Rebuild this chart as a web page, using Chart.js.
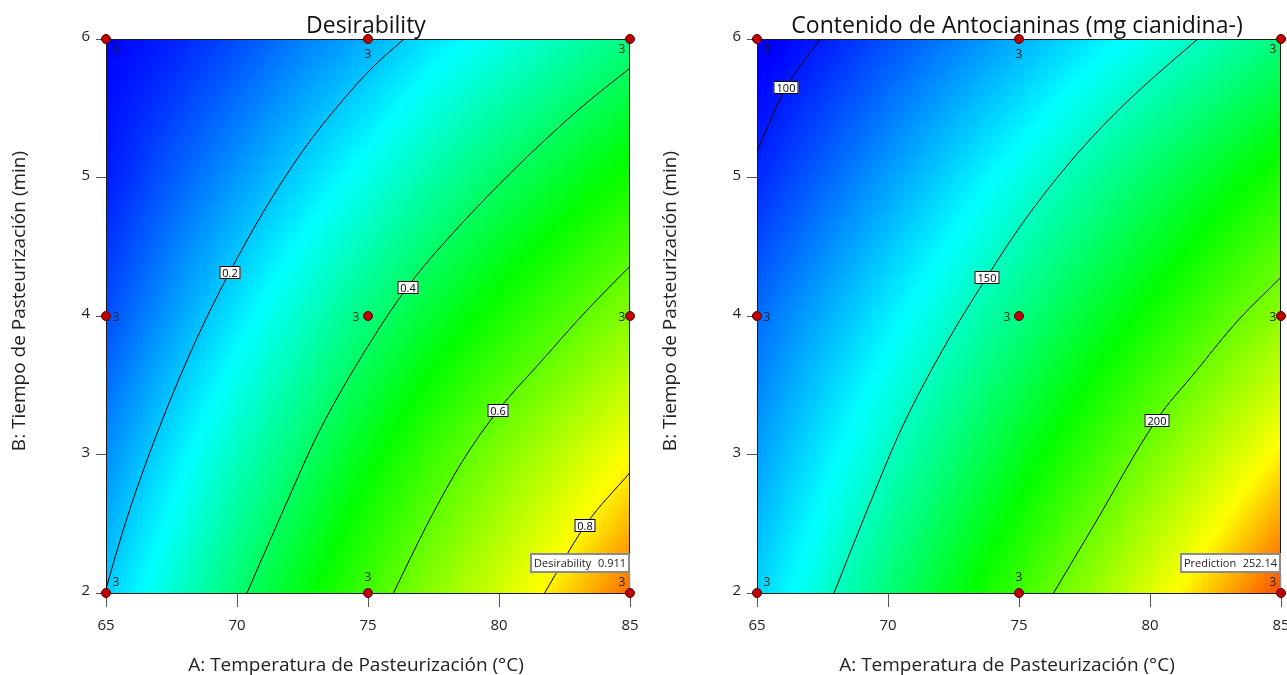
<!DOCTYPE html>
<html>
<head>
<meta charset="utf-8">
<title>Desirability / Antocianinas</title>
<script src="https://cdn.jsdelivr.net/npm/chart.js@4.4.1/dist/chart.umd.min.js"></script>
<style>
  html, body { margin: 0; padding: 0; background: #fff; }
  body { width: 1287px; height: 675px; position: relative; overflow: hidden; }
  canvas { position: absolute; top: 0; }
  #c1 { left: 0; }
  #c2 { left: 651px; }
</style>
</head>
<body>
<canvas id="c1" width="643" height="675"></canvas>
<canvas id="c2" width="636" height="675"></canvas>
<script>
// factor levels used for the response surfaces
const tempA = [65, 67.5, 70, 72.5, 75, 77.5, 80, 82.5, 85];
const timeB = [2, 3, 4, 5, 6];

// desirability, one row per time level (B = 2 .. 6)
const desirGrid = [
  [0.20, 0.29, 0.385, 0.475, 0.565, 0.655, 0.74, 0.825, 0.911],
  [0.14, 0.225, 0.31, 0.39, 0.475, 0.56, 0.64, 0.715, 0.79],
  [0.075, 0.153, 0.228, 0.302, 0.377, 0.447, 0.515, 0.58, 0.65],
  [0.025, 0.09, 0.15, 0.21, 0.27, 0.335, 0.395, 0.45, 0.51],
  [0.0, 0.03, 0.075, 0.125, 0.17, 0.225, 0.27, 0.32, 0.37]
];

// anthocyanin content, same layout
const anthoGrid = [
  [132, 147, 162, 177, 192, 207, 222, 237, 252.14],
  [123, 136.5, 149.5, 162.5, 176, 189.5, 203, 216.5, 230],
  [114, 125.5, 137, 148.5, 160, 172, 183.5, 195.5, 207],
  [102, 112.5, 123, 133.5, 144, 154.5, 165, 175.5, 186],
  [92, 100, 109, 117.5, 126, 135, 143.5, 152, 161]
];

// contour lines as [A, B] pairs
const desirLevels = ['0.2', '0.4', '0.6', '0.8'];
const desirLines = [
  [[65, 2.03], [65.65, 2.45], [66.3, 2.82], [67.15, 3.25], [68, 3.64], [68.87, 4.0], [69.73, 4.32], [71, 4.75], [72.5, 5.19], [74, 5.55], [75.2, 5.80], [76.38, 6]],
  [[70.38, 2], [71.68, 2.56], [73.12, 3.16], [74.99, 3.78], [76.51, 4.21], [77.82, 4.51], [80.43, 5.03], [83.04, 5.49], [85, 5.79]],
  [[75.97, 2], [77.30, 2.51], [78.6, 2.95], [79.97, 3.32], [81.6, 3.67], [83.3, 4.03], [85, 4.36]],
  [[81.74, 2], [83.3, 2.49], [85, 2.87]]
];
const desirLabelAt = [6, 4, 3, 1];

const anthoLevels = ['100', '150', '200'];
const anthoLines = [
  [[65, 5.19], [66.11, 5.65], [67.42, 6]],
  [[67.94, 2], [69.06, 2.53], [70.50, 3.18], [72.07, 3.75], [73.77, 4.28], [75.21, 4.69], [77.17, 5.16], [79.14, 5.55], [81.82, 6]],
  [[76.32, 2], [77.83, 2.48], [80.25, 3.25], [81.75, 3.60], [83.32, 3.96], [85, 4.28]]
];
const anthoLabelAt = [1, 4, 2];

// design runs and replicate counts
const designA = [65, 75, 85, 65, 75, 85, 65, 75, 85];
const designB = [2, 2, 2, 4, 4, 4, 6, 6, 6];
const designRuns = [3, 3, 3, 3, 3, 3, 3, 3, 3];

const FONT = '"Open Sans", "Noto Sans", sans-serif';
const ramp = [[0, 0, 255], [0, 255, 255], [0, 255, 0], [255, 255, 0], [255, 0, 0]];

function locate(arr, v) {
  let i = 0;
  while (i < arr.length - 2 && v > arr[i + 1]) i++;
  const t = Math.min(1, Math.max(0, (v - arr[i]) / (arr[i + 1] - arr[i])));
  return [i, t];
}

function surfaceAt(grid, a, b) {
  const [i, tx] = locate(tempA, a);
  const [j, ty] = locate(timeB, b);
  const lo = grid[j][i] * (1 - tx) + grid[j][i + 1] * tx;
  const hi = grid[j + 1][i] * (1 - tx) + grid[j + 1][i + 1] * tx;
  return lo * (1 - ty) + hi * ty;
}

function colourFor(v, stops) {
  if (v <= stops[0]) return `rgb(${ramp[0]})`;
  for (let k = 0; k < stops.length - 1; k++) {
    if (v <= stops[k + 1]) {
      const t = (v - stops[k]) / (stops[k + 1] - stops[k]);
      const c = ramp[k].map((c0, n) => Math.round(c0 + (ramp[k + 1][n] - c0) * t));
      return `rgb(${c})`;
    }
  }
  return `rgb(${ramp[ramp.length - 1]})`;
}

function surfacePlugin(cfg) {
  return {
    id: 'surface',
    beforeDatasetsDraw(chart) {
      const { ctx, chartArea: a, scales: { x, y } } = chart;
      const cols = 100, rows = 106;
      ctx.save();
      for (let i = 0; i < cols; i++) {
        const x0 = Math.round(a.left + a.width * i / cols);
        const x1 = Math.round(a.left + a.width * (i + 1) / cols);
        const av = x.getValueForPixel((x0 + x1) / 2);
        for (let j = 0; j < rows; j++) {
          const y0 = Math.round(a.top + a.height * j / rows);
          const y1 = Math.round(a.top + a.height * (j + 1) / rows);
          const bv = y.getValueForPixel((y0 + y1) / 2);
          ctx.fillStyle = colourFor(surfaceAt(cfg.grid, av, bv), cfg.stops);
          ctx.fillRect(x0, y0, x1 - x0, y1 - y0);
        }
      }
      ctx.strokeStyle = '#1a1a1a';
      ctx.lineWidth = 1;
      ctx.strokeRect(a.left + 0.5, a.top + 0.5, a.width - 1, a.height);
      ctx.restore();
    }
  };
}

function annotatePlugin(cfg) {
  return {
    id: 'annotate',
    afterDatasetsDraw(chart) {
      const { ctx, scales: { x, y } } = chart;
      ctx.save();
      // contour level tags
      ctx.font = `11px ${FONT}`;
      ctx.textAlign = 'center';
      ctx.textBaseline = 'middle';
      cfg.lines.forEach((pts, k) => {
        const p = pts[cfg.labelAt[k]];
        const px = Math.round(x.getPixelForValue(p[0]));
        const py = Math.round(y.getPixelForValue(p[1]));
        const w = Math.round(ctx.measureText(cfg.levels[k]).width) + 6;
        ctx.fillStyle = '#fff';
        ctx.fillRect(px - w / 2, py - 6, w, 13);
        ctx.strokeStyle = '#000';
        ctx.strokeRect(px - w / 2 + 0.5, py - 5.5, w - 1, 12);
        ctx.fillStyle = '#000';
        ctx.fillText(cfg.levels[k], px, py + 1.5);
      });

      // replicate counts next to each design run
      ctx.font = `12px ${FONT}`;
      ctx.fillStyle = '#1e1e1e';
      designA.forEach((a, k) => {
        const b = designB[k];
        const dx = a === 65 ? 10 : a === 85 ? -8 : (b === 4 ? -12 : 0);
        const dy = b === 6 ? (a === 75 ? 16 : 11) : b === 2 ? (a === 75 ? -15 : -10) : 2;
        ctx.fillText(String(designRuns[k]), x.getPixelForValue(a) + dx, y.getPixelForValue(b) + dy);
      });

      // prediction flag at the optimum
      const fx = Math.round(x.getPixelForValue(cfg.flag.a));
      const fy = Math.round(y.getPixelForValue(cfg.flag.b));
      ctx.font = `11px ${FONT}`;
      const lw = ctx.measureText(cfg.flag.label).width;
      const vw = ctx.measureText(cfg.flag.value).width;
      const bw = Math.round(lw + vw + 15);
      const left = fx - bw, top = fy - 40;
      ctx.strokeStyle = '#8c8c8c';
      ctx.lineWidth = 1.5;
      ctx.beginPath();
      ctx.moveTo(fx - 0.5, top + 20);
      ctx.lineTo(fx - 0.5, fy - 5);
      ctx.stroke();
      ctx.fillStyle = '#fff';
      ctx.fillRect(left, top, bw, 20);
      ctx.lineWidth = 2;
      ctx.strokeRect(left + 1, top + 1, bw - 2, 18);
      ctx.fillStyle = '#222';
      ctx.textAlign = 'left';
      ctx.fillText(cfg.flag.label, left + 4, top + 11);
      ctx.textAlign = 'right';
      ctx.fillText(cfg.flag.value, left + bw - 4, top + 11);
      ctx.restore();
    },
    afterDraw(chart) {
      const { ctx, chartArea: a } = chart;
      const mid = (a.left + a.right) / 2;
      ctx.save();
      ctx.fillStyle = '#111';
      ctx.textAlign = 'center';
      ctx.textBaseline = 'alphabetic';
      ctx.font = `23px ${FONT}`;
      ctx.fillText(cfg.title, mid - 2, 33);
      ctx.fillStyle = '#222';
      ctx.font = `19px ${FONT}`;
      ctx.fillText('A: Temperatura de Pasteurización (°C)', mid - 12, 671);
      ctx.translate(25, (a.top + a.bottom) / 2 - 15);
      ctx.rotate(-Math.PI / 2);
      ctx.fillText('B: Tiempo de Pasteurización (min)', 0, 0);
      ctx.restore();
    }
  };
}

function buildPanel(id, cfg) {
  const contourSets = cfg.lines.map(pts => ({
    type: 'line',
    data: pts.map(p => ({ x: p[0], y: p[1] })),
    borderColor: '#000',
    borderWidth: 1,
    pointRadius: 0,
    cubicInterpolationMode: 'monotone',
    fill: false,
    order: 2
  }));
  const runSet = {
    type: 'scatter',
    data: designA.map((a, k) => ({ x: a, y: designB[k] })),
    pointRadius: 4.5,
    backgroundColor: '#c00000',
    borderColor: '#4a0000',
    borderWidth: 1,
    clip: false,
    order: 1
  };
  return new Chart(document.getElementById(id), {
    type: 'scatter',
    data: { datasets: [...contourSets, runSet] },
    options: {
      responsive: false,
      animation: false,
      devicePixelRatio: 1,
      events: [],
      layout: { padding: { left: 0, top: 39, right: cfg.padRight, bottom: 0 } },
      plugins: { legend: { display: false }, tooltip: { enabled: false } },
      scales: {
        x: {
          type: 'linear', min: 65, max: 85,
          ticks: { stepSize: 5, color: '#222', padding: 10, font: { family: FONT, size: 15 } },
          grid: { drawOnChartArea: false, drawTicks: true, tickLength: 14, tickColor: '#555' },
          border: { display: true, color: '#000' },
          afterFit(s) { s.height = 82; s.paddingLeft = 0; s.paddingRight = 0; }
        },
        y: {
          type: 'linear', min: 2, max: 6,
          ticks: { stepSize: 1, color: '#222', padding: 6, labelOffset: -2, font: { family: FONT, size: 15 } },
          grid: { drawOnChartArea: false, drawTicks: true, tickLength: 10, tickColor: '#555' },
          border: { display: true, color: '#000' },
          afterFit(s) { s.width = 106; s.paddingTop = 0; s.paddingBottom = 0; }
        }
      }
    },
    plugins: [surfacePlugin(cfg), annotatePlugin(cfg)]
  });
}

buildPanel('c1', {
  title: 'Desirability',
  grid: desirGrid,
  stops: [0, 0.25, 0.49, 0.79, 1.0],
  lines: desirLines,
  levels: desirLevels,
  labelAt: desirLabelAt,
  flag: { a: 85, b: 2, label: 'Desirability', value: '0.911' },
  padRight: 13
});

buildPanel('c2', {
  title: 'Contenido de Antocianinas (mg cianidina-)',
  grid: anthoGrid,
  stops: [95, 140, 181, 228, 262],
  lines: anthoLines,
  levels: anthoLevels,
  labelAt: anthoLabelAt,
  flag: { a: 85, b: 2, label: 'Prediction', value: '252.14' },
  padRight: 6
});
</script>
</body>
</html>
